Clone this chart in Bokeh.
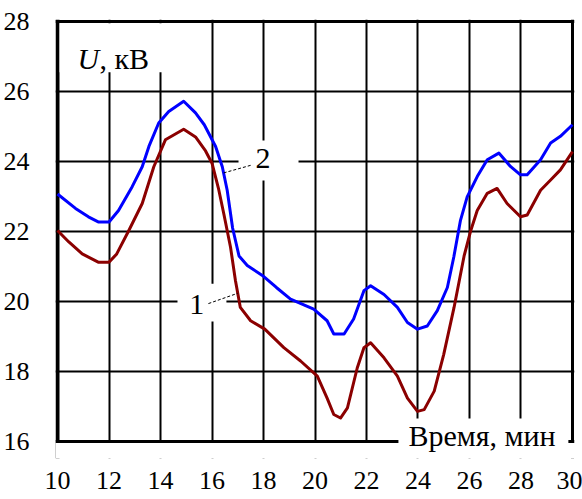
import numpy as np
from bokeh.plotting import figure
from bokeh.models import Range1d, FixedTicker, Span, BoxAnnotation, Label
from bokeh.embed import file_html
from bokeh.resources import INLINE

# Curve 1 (dark red): voltage U, kV vs time, min
t1 = [10.0, 10.44, 10.96, 11.6, 12.0, 12.3, 12.77, 13.29, 13.74, 14.19, 14.9,
      15.36, 15.75, 16.0, 16.26, 16.46, 16.72, 16.91, 17.1, 17.5, 18.05, 18.79,
      19.44, 20.09, 20.47, 20.73, 20.99, 21.26, 21.64, 21.9, 22.16, 22.68, 23.2,
      23.59, 23.98, 24.24, 24.63, 25.0, 25.4, 25.79, 26.05, 26.3, 26.69, 27.07,
      27.46, 27.98, 28.24, 28.76, 29.15, 29.53, 30.0]
u1 = [22.03, 21.7, 21.36, 21.12, 21.12, 21.36, 22.03, 22.8, 23.85, 24.62, 24.92,
      24.7, 24.3, 23.95, 23.2, 22.5, 21.55, 20.6, 19.83, 19.45, 19.21, 18.68,
      18.3, 17.87, 17.24, 16.77, 16.67, 16.96, 18.1, 18.68, 18.82, 18.39, 17.87,
      17.24, 16.86, 16.91, 17.44, 18.49, 19.83, 21.3, 22.03, 22.6, 23.09, 23.23,
      22.8, 22.42, 22.47, 23.18, 23.47, 23.76, 24.28]

# Curve 2 (blue)
t2 = [10.0, 10.7, 11.2, 11.6, 12.0, 12.37, 12.9, 13.29, 13.55, 13.93, 14.32,
      14.9, 15.36, 15.7, 16.14, 16.4, 16.59, 16.8, 17.05, 17.37, 18.0, 18.5,
      19.05, 19.95, 20.47, 20.73, 21.13, 21.5, 21.9, 22.16, 22.68, 23.2, 23.59,
      23.98, 24.36, 24.75, 25.14, 25.39, 25.65, 25.91, 26.3, 26.69, 27.14, 27.59,
      27.98, 28.24, 28.76, 29.15, 29.53, 30.0]
u2 = [23.07, 22.66, 22.42, 22.27, 22.27, 22.6, 23.28, 23.85, 24.43, 25.1, 25.43,
      25.72, 25.39, 25.05, 24.43, 23.85, 23.18, 22.1, 21.3, 21.03, 20.72, 20.4,
      20.07, 19.78, 19.45, 19.07, 19.07, 19.5, 20.31, 20.45, 20.2, 19.83, 19.4,
      19.21, 19.3, 19.74, 20.4, 21.27, 22.32, 22.99, 23.57, 24.05, 24.24, 23.86,
      23.62, 23.62, 24.05, 24.53, 24.72, 25.05]

x_ticks = [10, 12, 14, 16, 18, 20, 22, 24, 26, 28, 30]
y_ticks = [16, 18, 20, 22, 24, 26, 28]

SERIF = "Liberation Serif"

# the frame reaches below y=16 so the axis title can sit across the bottom edge
p = figure(width=582, height=499, output_backend="svg", toolbar_location=None,
           x_range=Range1d(9.9223, 30.0777), y_range=Range1d(15.514, 28.057),
           min_border_left=55, min_border_right=8, min_border_top=19,
           min_border_bottom=41)
p.outline_line_color = None
p.background_fill_color = "white"
p.border_fill_color = "white"

# axes: labels only
for ax, ticks in ((p.xaxis, x_ticks), (p.yaxis, y_ticks)):
    ax.ticker = FixedTicker(ticks=ticks)
    ax.axis_line_color = None
    ax.major_tick_line_color = None
    ax.minor_tick_line_color = None
    ax.major_label_text_font = SERIF
    ax.major_label_text_font_size = "26px"
    ax.major_label_text_color = "black"
p.xaxis.major_label_standoff = 7
p.yaxis.major_label_standoff = 20

# inner grid
p.xgrid.ticker = FixedTicker(ticks=x_ticks[1:-1])
p.ygrid.ticker = FixedTicker(ticks=y_ticks[1:-1])
for g in (p.xgrid, p.ygrid):
    g.grid_line_color = "black"
    g.grid_line_width = 2
    g.grid_line_alpha = 1.0

# frame border (left, right, top)
p.add_layout(Span(location=x_ticks[0], dimension="height", line_color="black",
                  line_width=4, level="underlay"))
p.add_layout(Span(location=x_ticks[-1], dimension="height", line_color="black",
                  line_width=3, level="underlay"))
p.add_layout(Span(location=y_ticks[-1], dimension="width", line_color="black",
                  line_width=3, level="underlay"))

# curves
p.line(t1, u1, line_color="#8B0000", line_width=3, line_join="round")
p.line(t2, u2, line_color="#0000FF", line_width=3, line_join="round")

# blank strip below the bottom edge
p.add_layout(BoxAnnotation(top=y_ticks[0], fill_color="white", fill_alpha=1.0,
                           line_color=None, level="annotation"))

# white backing behind the texts inside the plot
for l, r, b, t in ((10.08, 14.45, 26.55, 27.95),
                   (17.03, 19.36, 23.46, 24.6),
                   (14.66, 16.56, 19.43, 20.51)):
    p.add_layout(BoxAnnotation(left=l, right=r, bottom=b, top=t,
                               fill_color="white", fill_alpha=1.0,
                               line_color=None, level="annotation"))

# bottom edge, interrupted by the axis title
p.add_layout(Span(location=y_ticks[0], dimension="width", line_color="black",
                  line_width=3, level="overlay"))
p.add_layout(BoxAnnotation(left=23.24, right=29.84, bottom=15.55, top=16.66,
                           fill_color="white", fill_alpha=1.0,
                           line_color=None, level="overlay"))

# leader lines from the curve numbers to the curves
lead2_x = [17.5, 16.45]
lead2_y = [23.89, float(np.interp(16.45, t2, u2))]
lead1_x = [15.86, 17.0]
lead1_y = [19.94, float(np.interp(17.0, t1, u1))]
for lx, ly in ((lead2_x, lead2_y), (lead1_x, lead1_y)):
    r = p.line(lx, ly, line_color="black", line_width=1, line_dash="3 2")
    r.level = "overlay"

# texts
def label(x, y, text, style="normal"):
    p.add_layout(Label(x=x, y=y, text=text, text_font=SERIF,
                       text_font_style=style, text_font_size="30px",
                       text_color="black", text_baseline="alphabetic",
                       level="overlay"))

label(10.78, 26.95, "U", "italic")
label(11.63, 26.95, ", кВ")
label(23.63, 16.17, "Время, мин")
label(17.69, 24.09, "2")
label(15.12, 19.9, "1")

open("out.html", "w").write(file_html(p, INLINE))
